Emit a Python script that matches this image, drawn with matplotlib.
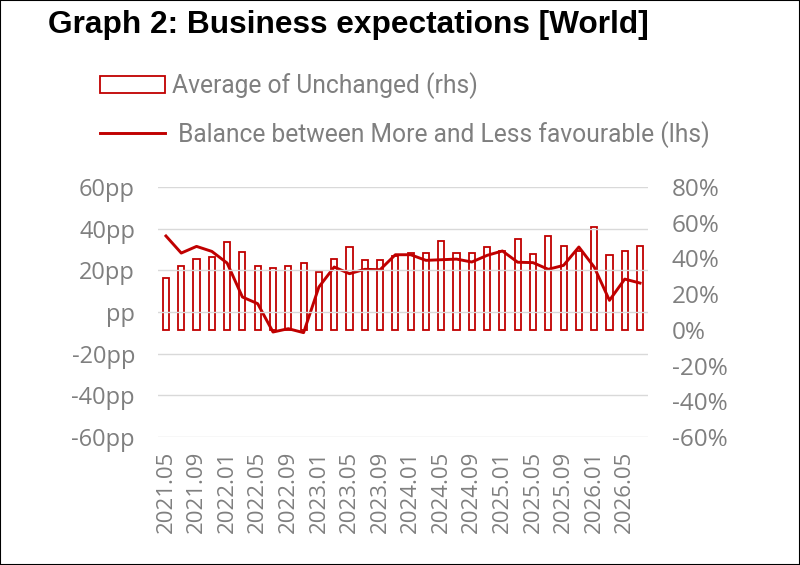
import matplotlib
matplotlib.use("Agg")
import matplotlib.pyplot as plt
from matplotlib.patches import Rectangle

# bimonthly periods, labels shown on every second one
periods = [
    "2021.05", "2021.07", "2021.09", "2021.11", "2022.01", "2022.03",
    "2022.05", "2022.07", "2022.09", "2022.11", "2023.01", "2023.03",
    "2023.05", "2023.07", "2023.09", "2023.11", "2024.01", "2024.03",
    "2024.05", "2024.07", "2024.09", "2024.11", "2025.01", "2025.03",
    "2025.05", "2025.07", "2025.09", "2025.11", "2026.01", "2026.03",
    "2026.05", "2026.07",
]

# Average of Unchanged, % (rhs)
unchanged = [29, 36, 39.6, 40.6, 49, 43.7, 35.8, 34.5, 35.7, 37.5, 32.5, 39.8,
             46.3, 39, 39, 41.5, 42.8, 42.8, 49.5, 43.1, 42.8, 46.2, 44.3, 50.8,
             42.4, 52.7, 47.1, 44, 57.6, 41.7, 43.9, 46.7]

# Balance between More and Less favourable, pp (lhs)
balance = [36.5, 28.3, 31.5, 29.1, 23.5, 7.2, 4.0, -9.6, -8.0, -9.9, 12.0, 21.6,
           18.4, 20.5, 20.3, 27.5, 27.5, 24.8, 25.1, 25.4, 24.0, 27.2, 29.3, 23.9,
           23.7, 20.5, 22.4, 31.2, 21.6, 5.6, 15.8, 13.9]

lhs_ticks = [-60, -40, -20, 0, 20, 40, 60]
rhs_ticks = [-60, -40, -20, 0, 20, 40, 60, 80]

red = "#C00000"
grey = "#7F7F7F"
tick_font = ["Open Sans", "DejaVu Sans"]
legend_font = ["Roboto", "DejaVu Sans"]

fig = plt.figure(figsize=(8, 5.65), dpi=100)
ax = fig.add_axes([0.1975, 0.2265, 0.6125, 0.4425])
ax2 = ax.twinx()

x = list(range(len(periods)))

bars = ax2.bar(x, unchanged, width=0.4, facecolor="white", edgecolor=red,
               linewidth=1.3, label="Average of Unchanged (rhs)")
ax2.set_ylim(-60, 80)
ax2.set_yticks(rhs_ticks)
ax2.set_yticklabels([f"{t}%" for t in rhs_ticks], fontsize=17.5, color=grey,
                    family=tick_font)

line, = ax.plot(x, balance, color=red, linewidth=2.1,
                label=" Balance between More and Less favourable (lhs)")
ax.set_ylim(-60, 60)
ax.set_yticks(lhs_ticks)
ax.set_yticklabels([f"{t}pp" if t != 0 else "pp" for t in lhs_ticks],
                   fontsize=17, color=grey, family=tick_font)
ax.set_xlim(-0.52, len(periods) - 0.48)
ax.set_xticks(x[::2])
ax.set_xticklabels(periods[::2], rotation=90, fontsize=16, color=grey,
                   family=tick_font)
ax.grid(axis="y", color="#D9D9D9", linewidth=1)
ax.set_axisbelow(False)

# line axes above the bars
ax.set_zorder(ax2.get_zorder() + 1)
ax.patch.set_visible(False)

for a in (ax, ax2):
    for s in a.spines.values():
        s.set_visible(False)
    a.tick_params(length=0)
ax.tick_params(axis="y", pad=16.5)
ax.tick_params(axis="x", pad=10)
ax2.tick_params(axis="y", pad=17)

fig.text(0.06, 0.942, "Graph 2: Business expectations [World]", fontsize=22.8,
         fontweight="bold", family=["Liberation Sans", "DejaVu Sans"],
         va="baseline")

fig.legend(handles=[bars, line], loc="upper left",
           bbox_to_anchor=(0.1125, 0.89), frameon=False,
           prop={"family": legend_font, "size": 17.7}, labelcolor=grey,
           handlelength=2.65, handleheight=0.7, handletextpad=0.3,
           labelspacing=0.9, borderaxespad=0)

fig.add_artist(Rectangle((0, 0), 1, 1, transform=fig.transFigure,
                         fill=False, edgecolor="black", linewidth=1.5))

fig.savefig("out.png", dpi=100)
